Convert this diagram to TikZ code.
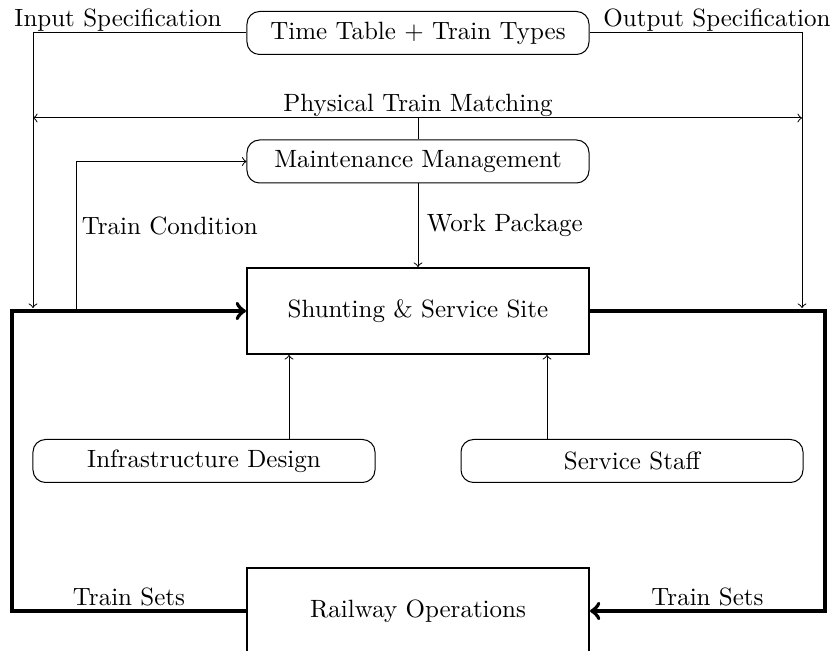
\documentclass[tikz,border=0pt]{standalone}
\usetikzlibrary{positioning,calc}

\tikzset{
	softbox/.style={draw, rounded corners=5pt, minimum width=136.8pt, minimum height=17.2pt, inner sep=0pt},
	hardbox/.style={draw, thick, minimum width=136.8pt, minimum height=34.4pt},
	flow/.style={->},
	trainflow/.style={->, ultra thick},
}

\begin{document}
\begin{tikzpicture}[x=0.4pt, y=-0.4pt]
	\useasboundingbox (0,0) rectangle (834,651);

	% boxes
	\node [softbox] (timetable) at (418,33) {Time Table + Train Types};
	\node [softbox] (maintenance) at (418,161.5) {Maintenance Management};
	\node [hardbox] (site) at (418,311) {Shunting \& Service Site};
	\node [softbox] (infra) at (204,461) {Infrastructure Design};
	\node [softbox] (staff) at (632,461) {Service Staff};
	\node [hardbox] (railway) at (418,611) {Railway Operations};

	% helper points
	\coordinate (inleft) at (33,308);
	\coordinate (outright) at (802,308);
	\coordinate (match) at (418,118);
	\coordinate (condfoot) at (76,311);
	\coordinate (loopleft) at (12,311);
	\coordinate (loopright) at (825,311);
	\coordinate (infrahook) at ($(site.south)!0.75!(site.south west)$);
	\coordinate (staffhook) at ($(site.south)!0.75!(site.south east)$);

	% specifications
	\draw [flow] (timetable.west) -| (inleft);
	\draw [flow] (timetable.east) -| (outright);
	\node [anchor=base] (inlabel) at (118,27) {Input Specification};
	\node [anchor=base] (outlabel) at (717,27) {Output Specification};

	% matching
	\draw [<->] (inleft |- match) -- (outright |- match);
	\draw (maintenance.north) -- (match);
	\node [anchor=base] (matchlabel) at (418,112) {Physical Train Matching};

	% maintenance
	\draw [flow] (condfoot) |- (maintenance.west);
	\node [anchor=base west] (condlabel) at (73,235) {Train Condition};
	\draw [flow] (maintenance.south) -- node [right] (worklabel) {Work Package} (site.north);

	% resources
	\draw [flow] (infra.north -| infrahook) -- (infrahook);
	\draw [flow] (staff.north -| staffhook) -- (staffhook);

	% train loop
	\draw [trainflow] (railway.west) -- node [above, inner sep=1pt] (leftsets) {Train Sets} (railway.west -| loopleft) -- (loopleft) -- (site.west);
	\draw [trainflow] (site.east) -- (loopright) -- (railway.east -| loopright) -- node [above, inner sep=1pt] (rightsets) {Train Sets} (railway.east);
\end{tikzpicture}
\end{document}
